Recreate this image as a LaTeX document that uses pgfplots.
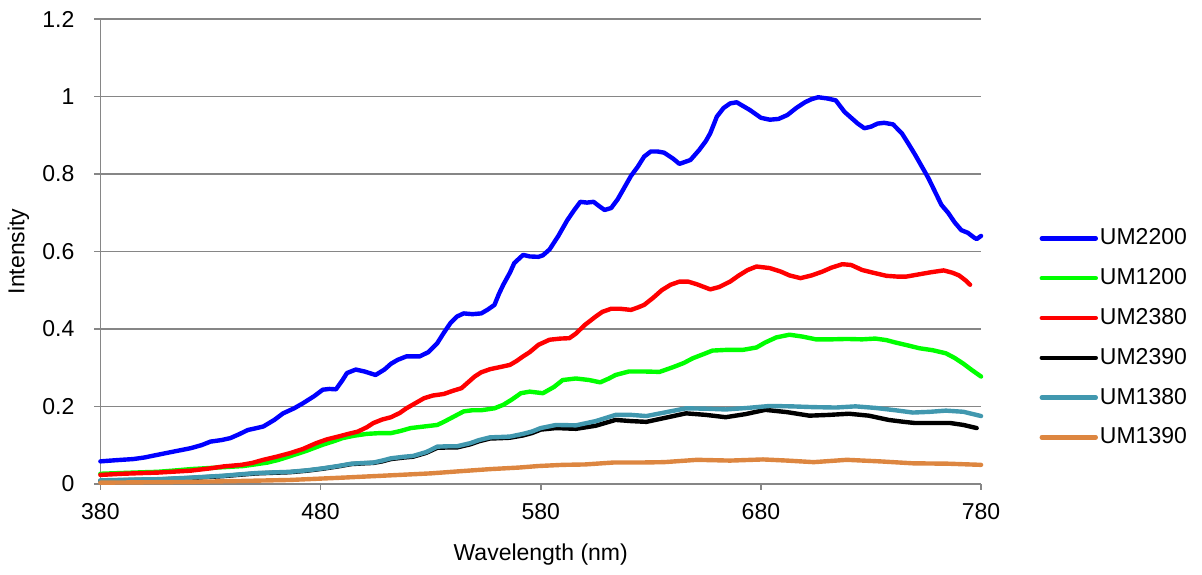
\documentclass[border=0pt]{standalone}
\usepackage{fontspec}
\setmainfont{Liberation Sans}
\usepackage{pgfplots}
\pgfplotsset{compat=1.18}
\definecolor{cteal}{RGB}{65,152,175}
\definecolor{corange}{RGB}{221,134,64}
\definecolor{cgrid}{RGB}{134,134,134}
\begin{document}
\fontsize{11.5bp}{13.8bp}\selectfont
\begin{tikzpicture}
\begin{axis}[
  at={(0,0)}, anchor=origin,
  scale only axis, width=440.5bp, height=232.5bp,
  xmin=380, xmax=780, ymin=0, ymax=1.2,
  xtick={380,480,580,680,780},
  ytick={0,0.2,0.4,0.6,0.8,1,1.2},
  axis lines=left, axis line style={-, draw=cgrid, line width=0.8bp},
  ymajorgrids, grid style={draw=cgrid, line width=0.8bp},
  tick align=outside, major tick length=3bp,
  tick style={draw=cgrid, line width=0.8bp},
  /pgf/number format/assume math mode=true,
  tick label style={font=\fontsize{11.5bp}{13.8bp}\selectfont},
  label style={font=\fontsize{11.5bp}{13.8bp}\selectfont},
  yticklabel style={xshift=-6bp},
  xticklabel style={yshift=-3bp},
  xlabel={Wavelength (nm)}, ylabel={Intensity},
  xlabel style={at={(axis description cs:0.5,-0.1527)}, anchor=center},
  ylabel style={at={(axis description cs:-0.0931,0.5)}, anchor=center},
  legend style={at={(1.066,0.314)}, anchor=west, draw=none, fill=none,
    inner sep=0pt, row sep=6.4bp,
    nodes={inner sep=1bp, text height=9bp, text depth=2.5bp, anchor=west},
    font=\fontsize{11.5bp}{13.8bp}\selectfont},
  legend cell align=left,
  legend image code/.code={\draw[#1, line cap=round] (0bp,0bp) -- (27bp,0bp);},
  every axis plot/.append style={line width=2.2bp, line join=round, line cap=round},
  clip=false,
]
\addplot[blue] coordinates {
(380,0.058)(387,0.061)(395,0.064)(400,0.068)(406,0.075)(413,0.083)(421,0.092)(426,0.100)
(430,0.109)(435,0.113)(439,0.118)(443,0.128)(447,0.139)(451,0.144)(454,0.148)(459,0.165)
(463,0.182)(468,0.195)(472,0.208)(477,0.226)(481,0.243)(484,0.245)(487,0.244)(490,0.268)
(492,0.286)(496,0.295)(500,0.290)(505,0.281)(509,0.295)(512,0.310)(515,0.320)(519,0.329)
(525,0.329)(529,0.340)(533,0.363)(536,0.390)(539,0.415)(542,0.432)(545,0.440)(549,0.438)
(553,0.440)(556,0.450)(559,0.462)(561,0.490)(563,0.514)(566,0.545)(568,0.570)(572,0.591)
(575,0.587)(579,0.586)(581,0.590)(584,0.605)(588,0.640)(592,0.680)(595,0.705)(598,0.728)
(601,0.726)(604,0.728)(607,0.715)(609,0.707)(612,0.712)(615,0.735)(618,0.765)(621,0.795)
(624,0.818)(627,0.845)(630,0.858)(633,0.858)(636,0.855)(640,0.840)(643,0.826)(648,0.836)
(652,0.862)(655,0.885)(657,0.905)(660,0.948)(663,0.970)(666,0.982)(669,0.985)(672,0.975)
(675,0.965)(680,0.945)(684,0.940)(688,0.942)(692,0.952)(696,0.970)(700,0.985)(703,0.993)
(706,0.998)(710,0.995)(714,0.990)(718,0.960)(721,0.945)(724,0.930)(727,0.918)(730,0.922)
(733,0.930)(736,0.932)(740,0.928)(744,0.905)(747,0.878)(750,0.850)(753,0.820)(756,0.790)
(759,0.755)(762,0.720)(765,0.700)(768,0.675)(771,0.655)(774,0.648)(777,0.635)(778,0.632)(780,0.640)
};
\addlegendentry{UM2200}
\addplot[color={rgb,255:red,0;green,255;blue,0}] coordinates {
(380,0.026)(390,0.028)(400,0.030)(406,0.031)(415,0.035)(421,0.038)(430,0.041)(436,0.043)
(445,0.046)(450,0.050)(456,0.055)(461,0.062)(466,0.071)(474,0.086)(481,0.101)(486,0.110)
(490,0.118)(495,0.124)(501,0.129)(507,0.131)(512,0.131)(516,0.136)(521,0.144)(527,0.148)
(533,0.152)(536,0.160)(539,0.169)(542,0.178)(545,0.187)(549,0.190)(553,0.190)(559,0.195)
(563,0.204)(567,0.218)(571,0.234)(575,0.238)(581,0.234)(586,0.250)(590,0.268)(596,0.272)
(602,0.268)(607,0.262)(611,0.272)(614,0.281)(620,0.290)(627,0.290)(634,0.289)(640,0.301)
(645,0.312)(649,0.324)(654,0.335)(658,0.344)(665,0.346)(672,0.346)(678,0.352)(682,0.365)
(687,0.378)(693,0.385)(699,0.380)(705,0.373)(712,0.373)(719,0.374)(726,0.373)(732,0.375)
(737,0.371)(741,0.365)(747,0.357)(752,0.350)(758,0.345)(764,0.337)(768,0.325)(772,0.310)
(776,0.293)(780,0.277)
};
\addlegendentry{UM1200}
\addplot[red] coordinates {
(380,0.023)(390,0.026)(400,0.028)(406,0.029)(415,0.032)(421,0.034)(430,0.040)(436,0.045)
(444,0.049)(449,0.054)(454,0.062)(460,0.070)(466,0.079)(472,0.090)(478,0.105)(483,0.115)
(488,0.122)(492,0.128)(497,0.135)(501,0.146)(504,0.157)(508,0.166)(512,0.172)(516,0.183)
(519,0.195)(523,0.208)(527,0.221)(531,0.228)(536,0.232)(540,0.240)(544,0.247)(547,0.262)
(550,0.277)(553,0.288)(557,0.296)(562,0.302)(566,0.307)(569,0.317)(572,0.329)(575,0.340)
(579,0.359)(584,0.372)(589,0.375)(593,0.376)(596,0.388)(600,0.410)(605,0.432)(608,0.444)
(612,0.452)(616,0.452)(621,0.449)(624,0.455)(627,0.462)(631,0.480)(635,0.500)(639,0.514)
(643,0.522)(647,0.522)(651,0.515)(657,0.502)(661,0.508)(666,0.522)(670,0.538)(674,0.552)
(678,0.561)(684,0.557)(689,0.548)(693,0.538)(698,0.531)(703,0.538)(708,0.548)(712,0.558)
(717,0.567)(721,0.565)(726,0.552)(731,0.545)(737,0.537)(742,0.535)(746,0.535)(751,0.540)
(757,0.546)(763,0.551)(767,0.545)(770,0.538)(773,0.525)(775,0.514)
};
\addlegendentry{UM2380}
\addplot[black] coordinates {
(380,0.008)(395,0.010)(406,0.011)(421,0.015)(436,0.020)(451,0.027)(466,0.030)(474,0.034)
(481,0.039)(488,0.045)(494,0.051)(500,0.053)(504,0.054)(508,0.058)(512,0.064)(518,0.068)
(522,0.070)(528,0.080)(533,0.093)(538,0.094)(542,0.094)(548,0.102)(552,0.110)(557,0.117)
(562,0.118)(566,0.119)(572,0.125)(576,0.131)(580,0.140)(587,0.144)(596,0.142)(605,0.150)
(614,0.165)(621,0.162)(628,0.160)(637,0.171)(646,0.182)(655,0.178)(664,0.172)(673,0.180)
(682,0.191)(692,0.185)(702,0.176)(711,0.178)(720,0.181)(729,0.176)(738,0.165)(745,0.160)
(750,0.157)(758,0.157)(766,0.157)(772,0.152)(778,0.144)
};
\addlegendentry{UM2390}
\addplot[cteal] coordinates {
(380,0.009)(395,0.011)(406,0.012)(421,0.016)(436,0.021)(451,0.028)(466,0.031)(474,0.035)
(481,0.040)(488,0.046)(494,0.052)(500,0.054)(504,0.055)(508,0.060)(512,0.066)(518,0.070)
(522,0.072)(528,0.082)(533,0.096)(538,0.097)(542,0.097)(548,0.105)(552,0.113)(557,0.120)
(562,0.121)(566,0.122)(572,0.129)(576,0.135)(580,0.144)(587,0.152)(596,0.151)(605,0.162)
(614,0.178)(621,0.178)(628,0.175)(637,0.185)(646,0.195)(655,0.194)(664,0.192)(674,0.196)
(684,0.201)(694,0.200)(704,0.198)(714,0.197)(723,0.200)(732,0.196)(741,0.190)(749,0.184)
(757,0.186)(764,0.189)(772,0.186)(780,0.175)
};
\addlegendentry{UM1380}
\addplot[corange] coordinates {
(380,0.003)(400,0.004)(421,0.005)(440,0.007)(466,0.010)(490,0.016)(512,0.022)(530,0.027)
(542,0.032)(557,0.038)(570,0.042)(579,0.046)(590,0.049)(600,0.050)(613,0.055)(625,0.055)
(636,0.056)(651,0.062)(666,0.060)(681,0.063)(692,0.060)(704,0.056)(719,0.062)(734,0.058)
(749,0.053)(765,0.052)(780,0.049)
};
\addlegendentry{UM1390}
\end{axis}
\path[use as bounding box] (-50bp,-45.5bp) rectangle (551bp,242bp);
\end{tikzpicture}
\end{document}
